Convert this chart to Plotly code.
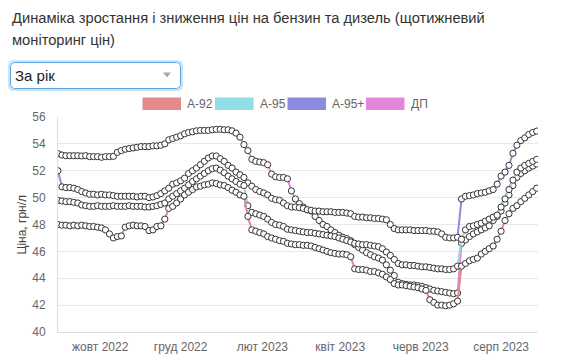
import pandas as pd
import plotly.graph_objects as go

# ---------------- data ----------------
dates = pd.date_range("2022-08-30", periods=122, freq="3D")

a92 = [48.0, 47.95, 47.95, 47.9, 47.95, 47.9, 47.95, 47.9, 47.85, 47.85,
       47.8, 47.75, 47.6, 47.3, 47.0, 47.1, 47.15, 47.8, 47.9, 47.95,
       47.9, 47.9, 47.85, 47.55, 47.6, 47.85, 47.9, 48.4, 49.2, 49.35,
       49.6, 49.9, 50.2, 50.4, 50.6, 50.8, 50.85, 50.95, 51.0, 51.1,
       51.05, 50.95, 50.9, 50.75, 50.55, 50.4, 50.2, 50.1, 48.6, 47.6,
       47.5, 47.4, 47.3, 47.1, 47.0, 46.9, 46.8, 46.75, 46.6, 46.55,
       46.5, 46.5, 46.45, 46.45, 46.4, 46.3, 46.2, 46.1, 46.0, 45.9,
       45.85, 45.8, 45.8, 45.75, 45.6, 44.7, 44.65, 44.65, 44.6, 44.5,
       44.5, 44.4, 44.3, 44.1, 43.9, 43.6, 43.5, 43.5, 43.45, 43.4,
       43.35, 43.3, 43.2, 43.1, 42.4, 42.2, 42.0, 42.0, 41.95, 42.0,
       42.1, 42.3, 44.9, 45.1, 45.3, 45.4, 45.5, 45.8, 46.0, 46.2,
       46.4, 46.9, 47.5, 48.3, 48.8, 49.2, 49.4, 49.7, 49.95, 50.2,
       50.45, 50.7]

a95 = [49.8, 49.75, 49.7, 49.7, 49.65, 49.6, 49.45, 49.4, 49.35, 49.35,
       49.4, 49.35, 49.35, 49.35, 49.4, 49.35, 49.35, 49.35, 49.4, 49.35,
       49.35, 49.35, 49.3, 49.3, 49.35, 49.4, 49.5, 49.6, 49.9, 50.1,
       50.3, 50.5, 50.7, 50.95, 51.2, 51.4, 51.6, 51.8, 52.0, 52.15,
       52.2, 52.05, 51.85, 51.6, 51.4, 51.2, 51.0, 50.9, 49.4, 48.9,
       48.8, 48.7, 48.6, 48.4, 48.15, 48.0, 47.95, 47.85, 47.65, 47.6,
       47.55, 47.5, 47.45, 47.4, 47.4, 47.35, 47.3, 47.25, 47.2, 47.15,
       47.1, 47.0, 46.9, 46.8, 46.7, 46.6, 46.55, 46.5, 46.5, 46.45,
       46.4, 46.35, 46.2, 45.95, 45.7, 45.4, 45.1, 45.0, 45.0, 44.95,
       44.95, 44.9, 44.85, 44.85, 44.8, 44.75, 44.7, 44.7, 44.65, 44.65,
       44.7, 44.9, 46.9, 47.6, 47.85, 47.9, 48.0, 48.1, 48.25, 48.4,
       48.55, 48.7, 49.3, 49.9, 50.6, 51.3, 51.9, 52.2, 52.4, 52.55,
       52.7, 52.85]

a95p = [52.0, 50.8, 50.75, 50.75, 50.7, 50.6, 50.45, 50.35, 50.25, 50.25,
        50.2, 50.25, 50.2, 50.2, 50.15, 50.1, 50.1, 50.1, 50.1, 50.1,
        50.05, 50.1, 50.1, 50.0, 50.05, 50.15, 50.3, 50.5, 50.7, 51.0,
        51.1, 51.25, 51.45, 51.8, 52.0, 52.2, 52.45, 52.7, 52.95, 53.1,
        53.1, 52.9, 52.7, 52.4, 52.2, 51.9, 51.7, 51.5, 51.1, 50.85,
        50.6, 50.45, 50.35, 50.2, 49.95, 49.85, 49.8, 49.6, 49.4, 49.3,
        49.3, 49.25, 49.2, 49.1, 49.05, 49.0, 49.0, 48.95, 48.95, 48.95,
        48.9, 48.9, 48.9, 48.85, 48.8, 48.6, 48.55, 48.55, 48.5, 48.5,
        48.45, 48.45, 48.4, 48.35, 48.0, 47.7, 47.6, 47.6, 47.6, 47.6,
        47.55, 47.55, 47.55, 47.55, 47.5, 47.5, 47.45, 47.3, 47.05, 47.0,
        47.0, 47.05, 49.9, 50.1, 50.15, 50.2, 50.3, 50.35, 50.4, 50.5,
        50.6, 51.0, 51.6, 51.9, 52.4, 53.3, 53.9, 54.25, 54.45, 54.7,
        54.85, 54.95]

dp = [53.27, 53.17, 53.12, 53.12, 53.12, 53.12, 53.1, 53.12, 53.05, 53.05,
      53.05, 53.0, 53.05, 53.05, 53.07, 53.37, 53.5, 53.6, 53.65, 53.7,
      53.75, 53.8, 53.8, 53.8, 53.85, 53.85, 53.9, 54.0, 54.3, 54.4,
      54.5, 54.6, 54.75, 54.85, 54.9, 54.97, 55.0, 55.0, 55.0, 55.05,
      55.08, 55.08, 55.05, 55.05, 54.97, 54.8, 54.5, 53.95, 53.5, 52.85,
      52.7, 52.65, 52.6, 52.45, 51.75, 51.55, 51.5, 51.5, 51.4, 50.5,
      49.9, 49.55, 49.3, 49.1, 49.0, 48.6, 48.3, 48.0, 47.85, 47.6,
      47.4, 47.2, 47.05, 46.95, 46.8, 46.5, 46.3, 46.1, 45.9, 45.75,
      45.6, 45.5, 45.35, 45.0, 44.6, 44.2, 43.7, 43.6, 43.55, 43.5,
      43.5, 43.45, 43.4, 43.3, 43.2, 43.1, 43.05, 43.0, 42.95, 42.9,
      42.85, 42.9, 46.6, 46.85, 47.1, 47.3, 47.45, 47.6, 47.75, 47.9,
      48.3, 48.6, 49.0, 49.6, 50.2, 50.9, 51.5, 51.8, 52.0, 52.2,
      52.35, 52.5]

series_names = ["A-92", "A-95", "A-95+", "ДП"]
series_values = [a92, a95, a95p, dp]
colors = ["#E48A8C", "#8EDEE3", "#8B8BE0", "#E487DA"]

x_tick_dates = ["2022-10-01", "2022-12-01", "2023-02-01",
                "2023-04-01", "2023-06-01", "2023-08-01"]
x_tick_text = ["жовт 2022", "груд 2022", "лют 2023",
               "квіт 2023", "черв 2023", "серп 2023"]
y_ticks = [40, 42, 44, 46, 48, 50, 52, 54, 56]

title_lines = ["Динаміка зростання і зниження цін на бензин та дизель (щотижневий",
               "моніторинг цін)"]
y_title = "Ціна, грн/л"
select_text = "За рік"

# ---------------- layout helpers ----------------
W, H = 576, 357
L, R, T, B = 58, 38, 117, 25
PW, PH = W - L - R, H - T - B


def px(x):
    return (x - L) / PW


def py(y):
    return (H - B - y) / PH


FONT = "Liberation Sans, Arial, Helvetica, sans-serif"

fig = go.Figure()

# draw in reverse so that the first dataset ends on top (as in the original)
for name, vals, col in reversed(list(zip(series_names, series_values, colors))):
    fig.add_trace(go.Scatter(
        x=dates, y=vals, name=name, mode="lines+markers",
        line=dict(color=col, width=2),
        marker=dict(size=6.2, color="white", line=dict(color="#333333", width=1)),
        showlegend=False,
    ))

shapes = []
annotations = []

# title (two lines, browser-like line height)
for line, yc in zip(title_lines, [17.5, 39.5]):
    annotations.append(dict(
        text=line, xref="paper", yref="paper", x=px(9.5), y=py(yc),
        xanchor="left", yanchor="middle", showarrow=False, align="left",
        font=dict(family=FONT, size=14.7, color="#333333"),
    ))

# select box imitation
x0, x1, y0, y1 = px(10.5), px(180.5), py(62.5), py(88.5)
rx, ry = 4 / PW, 4 / PH
path = (f"M {x0+rx},{y0} L {x1-rx},{y0} Q {x1},{y0} {x1},{y0-ry} "
        f"L {x1},{y1+ry} Q {x1},{y1} {x1-rx},{y1} L {x0+rx},{y1} "
        f"Q {x0},{y1} {x0},{y1+ry} L {x0},{y0-ry} Q {x0},{y0} {x0+rx},{y0} Z")
gx0, gx1, gy0, gy1 = px(9), px(182), py(61), py(90)
grx, gry = 5 / PW, 5 / PH
gpath = (f"M {gx0+grx},{gy0} L {gx1-grx},{gy0} Q {gx1},{gy0} {gx1},{gy0-gry} "
         f"L {gx1},{gy1+gry} Q {gx1},{gy1} {gx1-grx},{gy1} L {gx0+grx},{gy1} "
         f"Q {gx0},{gy1} {gx0},{gy1+gry} L {gx0},{gy0-gry} Q {gx0},{gy0} {gx0+grx},{gy0} Z")
shapes.append(dict(type="path", xref="paper", yref="paper", path=gpath,
                   line=dict(color="rgba(102,175,233,0.35)", width=2),
                   fillcolor="rgba(0,0,0,0)", layer="above"))
shapes.append(dict(type="path", xref="paper", yref="paper", path=path,
                   line=dict(color="#5AA5E4", width=1), fillcolor="white",
                   layer="above"))
shapes.append(dict(type="path", xref="paper", yref="paper",
                   path=f"M {px(163)},{py(72.5)} L {px(171)},{py(72.5)} L {px(167)},{py(77.5)} Z",
                   line=dict(width=0), fillcolor="#A8A8A8", layer="above"))
annotations.append(dict(
    text=select_text, xref="paper", yref="paper", x=px(12.5), y=py(75.5),
    xanchor="left", yanchor="middle", showarrow=False,
    font=dict(family=FONT, size=15, color="#222222"),
))

# legend imitation
legend_boxes = [142.5, 215, 287.5, 366]
legend_text_x = [185, 257.5, 330, 408.5]
for name, col, bx, tx in zip(series_names, colors, legend_boxes, legend_text_x):
    shapes.append(dict(type="rect", xref="paper", yref="paper",
                       x0=px(bx), x1=px(bx + 38.5), y0=py(97.5), y1=py(110),
                       line=dict(width=0), fillcolor=col, layer="above"))
    annotations.append(dict(
        text=name, xref="paper", yref="paper", x=px(tx), y=py(104),
        xanchor="left", yanchor="middle", showarrow=False,
        font=dict(family=FONT, size=12, color="#666666"),
    ))

# y axis title
annotations.append(dict(
    text=y_title, xref="paper", yref="paper", x=px(21), y=0.5,
    xanchor="center", yanchor="middle", showarrow=False, textangle=-90,
    font=dict(family=FONT, size=12, color="#444444"),
))

fig.update_layout(
    width=W, height=H,
    margin=dict(l=L, r=R, t=T, b=B, pad=0, autoexpand=False),
    paper_bgcolor="white", plot_bgcolor="white",
    font=dict(family=FONT, size=12, color="#666666"),
    shapes=shapes, annotations=annotations,
    showlegend=False, hovermode="closest",
)
fig.update_xaxes(
    type="date", range=["2022-08-30", "2023-08-29"],
    tickvals=x_tick_dates, ticktext=x_tick_text,
    showgrid=False, zeroline=False, ticks="", automargin=False,
    showline=True, linecolor="#dedede", linewidth=1,
    tickfont=dict(family=FONT, size=12, color="#666666"),
    ticklabelstandoff=4,
)
fig.update_yaxes(
    range=[40, 56], tickvals=y_ticks, automargin=False,
    showgrid=True, gridcolor="#e9e9e9", gridwidth=1,
    zeroline=False, ticks="",
    showline=True, linecolor="#dedede", linewidth=1,
    tickfont=dict(family=FONT, size=12, color="#666666"),
    ticklabelstandoff=9,
)

fig.write_html("out.html")
